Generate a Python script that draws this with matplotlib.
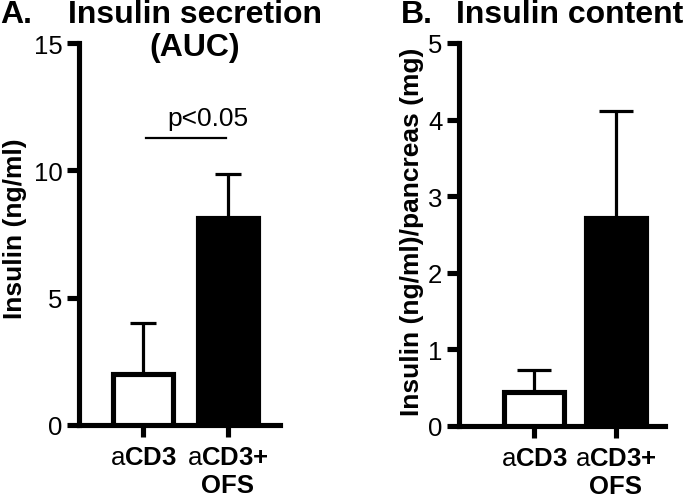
import matplotlib
matplotlib.use("Agg")
import matplotlib.pyplot as plt

plt.rcParams['font.family'] = ['Liberation Sans', 'DejaVu Sans']
plt.rcParams['mathtext.fontset'] = 'custom'
plt.rcParams['mathtext.rm'] = 'Liberation Sans'
plt.rcParams['mathtext.bf'] = 'Liberation Sans:bold'

# Data
groups = [r"$\mathrm{a}$CD3", "$\\mathrm{a}$CD3+\nOFS"]
secretion_mean = [2.0, 8.13]
secretion_err = [2.0, 1.73]
content_mean = [0.44, 2.72]
content_err = [0.29, 1.39]
bar_colors = ['white', 'black']
p_text = "p<0.05"
p_level = 11.27

W, H = 685, 502
fig = plt.figure(figsize=(W / 100, H / 100), dpi=100)

LW = 3.7
TICKFS = 18.5
LABFS = 19
TITLEFS = 23


def px_axes(x0, x1, y_top, y_bot):
    return fig.add_axes([x0 / W, 1 - y_bot / H, (x1 - x0) / W, (y_bot - y_top) / H])


def style(ax, xlim, ylim, yticks, capsize, means, errs, width):
    x = [0, 1]
    ax.bar(x, means, width=width, color=bar_colors, edgecolor='black',
           linewidth=LW, zorder=3)
    ax.errorbar(x, means, yerr=[[0, 0], errs], fmt='none', ecolor='black',
                elinewidth=2.3, capsize=capsize, capthick=2.3, zorder=2)
    ax.set_xlim(*xlim)
    ax.set_ylim(*ylim)
    ax.set_yticks(yticks)
    ax.set_xticks(x)
    ax.set_xticklabels(groups, fontsize=TICKFS, fontweight='bold', linespacing=1.2)
    for s in ['top', 'right']:
        ax.spines[s].set_visible(False)
    for s in ['left', 'bottom']:
        ax.spines[s].set_linewidth(LW)
        ax.spines[s].set_capstyle('projecting')
    ax.tick_params(axis='y', direction='out', length=8.5, width=LW, labelsize=TICKFS, pad=3.5)
    ax.tick_params(axis='x', direction='out', length=8.5, width=LW, pad=6)
    ax.patch.set_visible(False)


# Panel A
axA = px_axes(79, 280, 44, 426)
sA = 85.0
style(axA, (-64 / sA, (280 - 143) / sA), (0, 15), [0, 5, 10, 15], 9.5,
      secretion_mean, secretion_err, 60 / sA)
axA.plot([3 / sA, 83 / sA], [p_level, p_level], color='black', lw=1.6)
axA.text(0.765, p_level + 0.3, p_text, ha='center', va='bottom', fontsize=LABFS)

# Panel B
axB = px_axes(459, 665, 44, 427)
sB = 82.0
style(axB, (-(534 - 459) / sB, (665 - 534) / sB), (0, 5), [0, 1, 2, 3, 4, 5], 12,
      content_mean, content_err, 60 / sB)

# Titles
fig.text(0 / W, 1 - 0 / H, "A.", fontsize=TITLEFS, fontweight='bold', ha='left', va='top')
fig.text(195 / W, 1 - 0 / H, "Insulin secretion\n(AUC)", fontsize=TITLEFS,
         fontweight='bold', ha='center', va='top', linespacing=1.15)
fig.text(401 / W, 1 - 0 / H, "B.", fontsize=TITLEFS, fontweight='bold', ha='left', va='top')
fig.text(570 / W, 1 - 0 / H, "Insulin content", fontsize=TITLEFS,
         fontweight='bold', ha='center', va='top')

# Y labels
fig.text(15 / W, 1 - 229 / H, "Insulin (ng/ml)", rotation=90, fontsize=LABFS,
         fontweight='bold', ha='center', va='center')
fig.text(412 / W, 1 - 232 / H, "Insulin (ng/ml)/pancreas (mg)", rotation=90,
         fontsize=LABFS, fontweight='bold', ha='center', va='center')

fig.savefig("out.png", dpi=100)
